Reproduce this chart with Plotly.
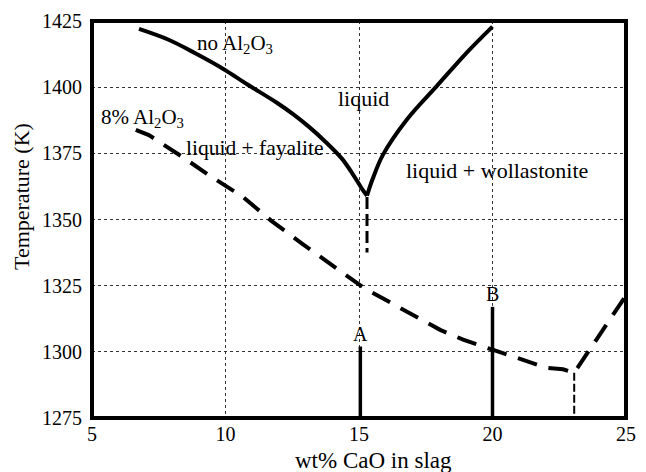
import plotly.graph_objects as go

# ---- data ----
x_ticks = [5, 10, 15, 20, 25]
y_ticks = [1275, 1300, 1325, 1350, 1375, 1400, 1425]

# liquidus, no Al2O3 (fayalite branch)
noal_fay_x = [6.76, 7.87, 8.85, 9.95, 10.81, 11.91, 12.53, 13.14, 13.75, 14.36, 14.79, 15.1, 15.3]
noal_fay_y = [1422.0, 1417.9, 1412.9, 1406.7, 1401.1, 1394.2, 1389.8, 1384.9, 1379.3, 1373.0, 1366.8, 1361.8, 1359.0]
# liquidus, no Al2O3 (wollastonite branch)
noal_wol_x = [15.3, 15.5, 15.9, 16.81, 17.92, 19.02, 20.0]
noal_wol_y = [1359.0, 1365.0, 1374.5, 1388.0, 1400.5, 1412.9, 1422.9]
# eutectic drop line, no Al2O3
noal_eut_x = [15.3, 15.3]
noal_eut_y = [1358.5, 1337.5]

# liquidus, 8% Al2O3
al8_x = [6.64, 7.13, 8.48, 9.46, 10.63, 11.73, 12.89, 14.0, 15.22, 18.04, 18.9, 20.0, 22.02, 22.64, 23.06, 25.0]
al8_y = [1383.9, 1381.9, 1373.0, 1366.2, 1358.7, 1349.4, 1340.7, 1332.6, 1323.9, 1308.3, 1304.6, 1300.8, 1294.0, 1293.4, 1292.1, 1321.3]
# eutectic drop line, 8% Al2O3
al8_eut_x = [23.06, 23.06]
al8_eut_y = [1292.1, 1275.0]

# slag compositions A and B
markers_lbl = ["A", "B"]
markers_x = [15.05, 20.0]
markers_top = [1302.0, 1317.0]
base_T = 1275.0

# region labels
labels_txt = ["no Al<sub>2</sub>O<sub>3</sub>", "8% Al<sub>2</sub>O<sub>3</sub>", "liquid + fayalite",
              "liquid", "liquid + wollastonite"]
labels_x = [10.36, 6.88, 11.1, 15.15, 20.15]
labels_y = [1416.4, 1388.5, 1377.0, 1395.8, 1368.4]
labels_size = [21, 21, 21.5, 22, 22]

FONT = "Liberation Serif"

fig = go.Figure()

smooth = dict(color="black", width=4, shape="spline", smoothing=1.0)
fig.add_trace(go.Scatter(x=noal_fay_x, y=noal_fay_y, mode="lines", line=smooth,
                         hoverinfo="skip", showlegend=False))
fig.add_trace(go.Scatter(x=noal_wol_x, y=noal_wol_y, mode="lines", line=smooth,
                         hoverinfo="skip", showlegend=False))
fig.add_trace(go.Scatter(x=noal_eut_x, y=noal_eut_y, mode="lines",
                         line=dict(color="black", width=3, dash="12px,5px"),
                         hoverinfo="skip", showlegend=False))
fig.add_trace(go.Scatter(x=al8_x, y=al8_y, mode="lines",
                         line=dict(color="black", width=4, dash="20px,12px"),
                         hoverinfo="skip", showlegend=False))
fig.add_trace(go.Scatter(x=al8_eut_x, y=al8_eut_y, mode="lines",
                         line=dict(color="black", width=2, dash="8px,3px"),
                         hoverinfo="skip", showlegend=False))

for lbl, xv, top in zip(markers_lbl, markers_x, markers_top):
    fig.add_trace(go.Scatter(x=[xv, xv], y=[base_T, top], mode="lines",
                             line=dict(color="black", width=3.5),
                             hoverinfo="skip", showlegend=False))
    fig.add_annotation(x=xv, y=top, text=lbl, showarrow=False,
                       xanchor="center", yanchor="bottom",
                       font=dict(family=FONT, size=20, color="black"))

for t, xv, yv, fs in zip(labels_txt, labels_x, labels_y, labels_size):
    fig.add_annotation(x=xv, y=yv, text=t, showarrow=False,
                       xanchor="center", yanchor="middle",
                       font=dict(family=FONT, size=fs, color="black"))

# axis titles
fig.add_annotation(xref="paper", yref="paper", x=(379 - 92) / 544, y=-(461 - 418) / 400,
                   xanchor="center", yanchor="middle",
                   text="wt% CaO in slag", showarrow=False,
                   font=dict(family=FONT, size=23, color="black"))
fig.add_annotation(xref="paper", yref="paper", x=-(92 - 20) / 544, y=(418 - 195) / 400,
                   xanchor="center", yanchor="middle",
                   text="Temperature (K)", showarrow=False, textangle=-90,
                   font=dict(family=FONT, size=22, color="black"))

# frame
fig.add_shape(type="rect", xref="paper", yref="paper", x0=0, x1=1, y0=0, y1=1,
              line=dict(color="black", width=4), layer="above")

axis_common = dict(showline=False, zeroline=False, showgrid=True,
                   gridcolor="#333333", gridwidth=1, griddash="3px,3px",
                   ticks="", tickfont=dict(family=FONT, size=20, color="black"))

fig.update_layout(
    width=646, height=472,
    margin=dict(l=92, r=10, t=18, b=54),
    paper_bgcolor="white", plot_bgcolor="white",
    font=dict(family=FONT, color="black"),
    xaxis=dict(range=[5, 25], tickvals=x_ticks, ticktext=[str(v) for v in x_ticks],
               ticklabelstandoff=2, **axis_common),
    yaxis=dict(range=[1275, 1425], tickvals=y_ticks, ticktext=[str(v) for v in y_ticks],
               ticklabelstandoff=9, **axis_common),
)

fig.write_html("out.html")
